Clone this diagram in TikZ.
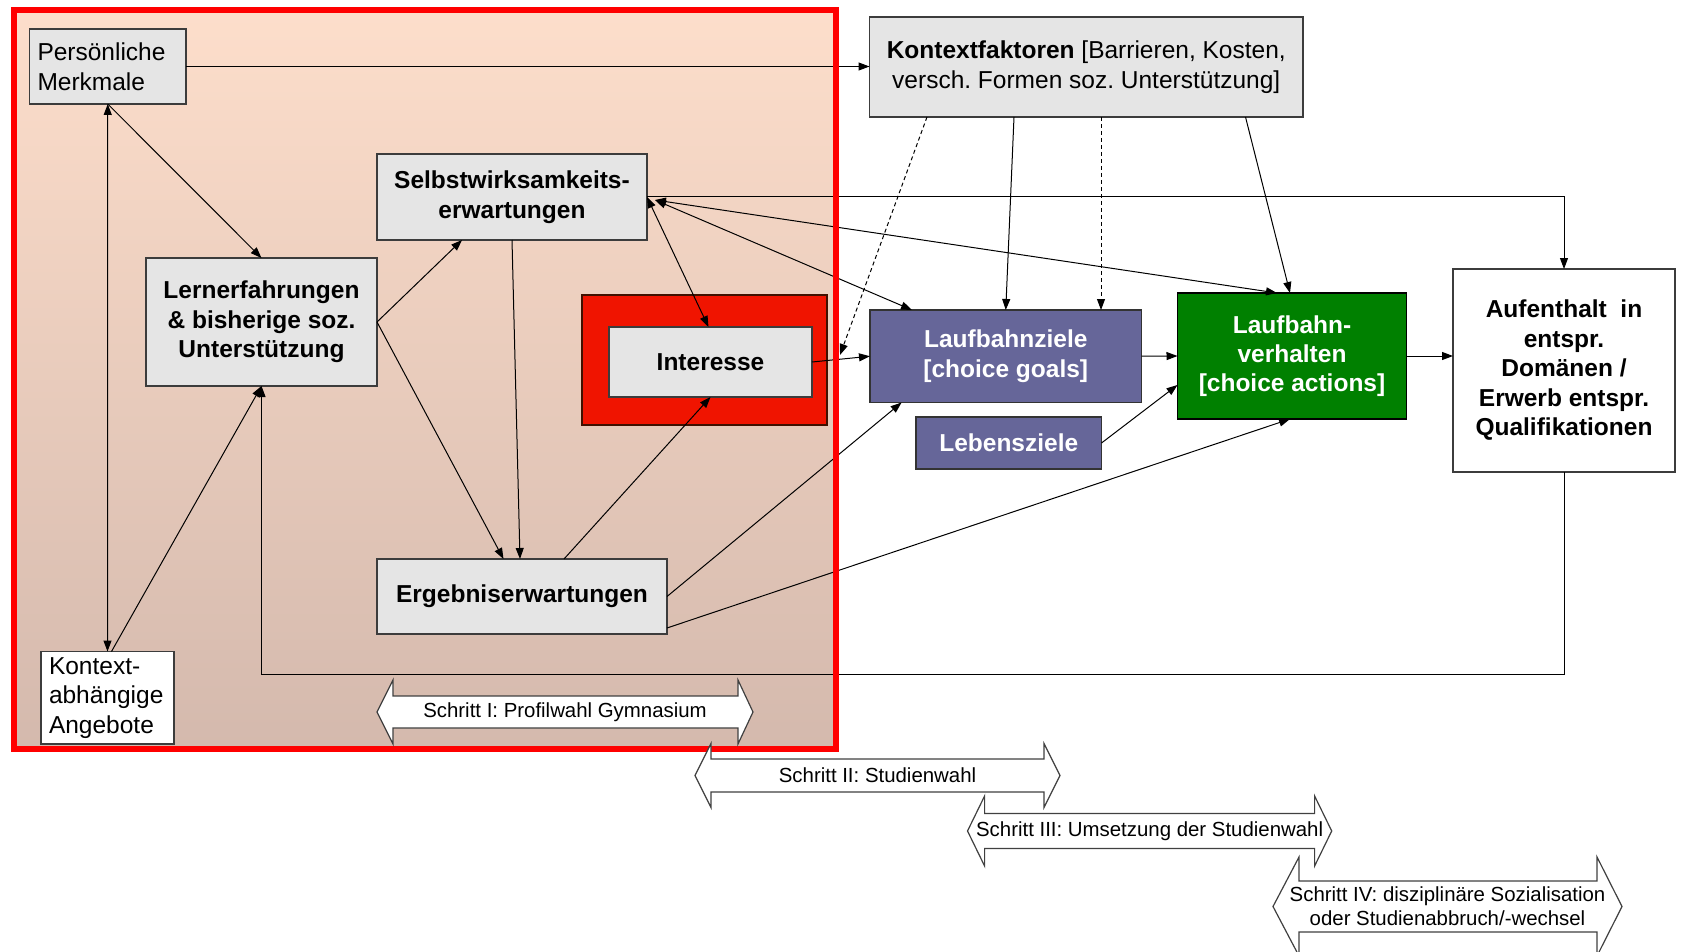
\documentclass[tikz,border=0pt]{standalone}
\usepackage{fontspec}
\setmainfont{Liberation Sans}
\usetikzlibrary{arrows.meta,calc}
\frenchspacing

\definecolor{boxgray}{RGB}{229,229,229}
\definecolor{edgegray}{RGB}{60,60,60}
\definecolor{goalblue}{RGB}{102,102,153}
\definecolor{actgreen}{RGB}{0,128,0}
\definecolor{intred}{RGB}{240,20,0}
\definecolor{intedge}{RGB}{64,16,0}
\definecolor{peachtop}{RGB}{253,222,203}
\definecolor{peachbot}{RGB}{212,185,173}
\definecolor{framered}{RGB}{255,0,0}

% double-headed step band: L, L-head back, R-head back, R, mid y, shaft half height, head half height
\newcommand\stepband[7]{%
  \draw[stepline] (#1,#5) -- (#2,#5-#7) -- (#2,#5-#6) -- (#3,#5-#6) -- (#3,#5-#7)
    -- (#4,#5) -- (#3,#5+#7) -- (#3,#5+#6) -- (#2,#5+#6) -- (#2,#5+#7) -- cycle;}

\begin{document}
\begin{tikzpicture}[x=1pt,y=-1pt,
  every node/.style={inner sep=0pt, outer sep=0pt},
  bigfont/.style={font=\fontsize{24.5}{29.5}\selectfont},
  boldfont/.style={font=\fontsize{24.5}{29.5}\selectfont\bfseries},
  stepfont/.style={font=\fontsize{20.4}{23.5}\selectfont},
  graybox/.style={draw=edgegray, line width=1.5pt, fill=boxgray, bigfont, align=center},
  boldbox/.style={graybox, boldfont},
  goalbox/.style={draw=black!80, line width=1.5pt, fill=goalblue, text=white, boldfont, align=center},
  actbox/.style={draw=black, line width=1.5pt, fill=actgreen, text=white, boldfont, align=center, font=\fontsize{24.5}{28.7}\selectfont\bfseries},
  stepline/.style={draw=black!75, line width=1.2pt, fill=white},
  link/.style={draw=black, line width=1pt, -{Triangle[length=11pt,width=8pt]}},
  twoway/.style={draw=black, line width=1pt, {Triangle[length=11pt,width=8pt]}-{Triangle[length=11pt,width=8pt]}},
  hint/.style={link, dash pattern=on 4pt off 3pt},
]
\useasboundingbox (0,0) rectangle (1681,952);

% shaded field of the first step
\shade[top color=peachtop, bottom color=peachbot] (14,10) rectangle (835.5,749);

% boxes
\node[graybox, align=left, text width=140.5pt, inner xsep=8pt, minimum height=75pt] (pm) at (107.75,66.5) {Persönliche\\Merkmale};
\node[boldbox, minimum width=270pt, minimum height=86pt] (se) at (512,197) {Selbstwirksamkeits-\\erwartungen};
\node[boldbox, minimum width=231pt, minimum height=128pt] (le) at (261.5,322) {Lernerfahrungen\\\& bisherige soz.\\Unterstützung};
\node[draw=intedge, line width=2.5pt, fill=intred, minimum width=245pt, minimum height=130pt] (io) at (704.5,360) {};
\node[boldbox, minimum width=203pt, minimum height=70pt] (ii) at (710.5,362) {Interesse};
\node[boldbox, minimum width=290pt, minimum height=75pt] (er) at (522,596.5) {Ergebniserwartungen};
\node[graybox, fill=white, align=left, text width=117pt, inner xsep=8pt, minimum height=92.5pt] (ka) at (107.5,697.75) {Kontext-\\abhängige\\Angebote};
\node[graybox, minimum width=433.5pt, minimum height=100pt] (kf) at (1086.25,67) {\textbf{Kontextfaktoren} [Barrieren, Kosten,\\versch. Formen soz. Unterstützung]};
\node[goalbox, minimum width=271.5pt, minimum height=92.5pt] (lz) at (1005.75,356.25) {Laufbahnziele\\{}[choice goals]};
\node[goalbox, minimum width=185.5pt, minimum height=52pt] (lb) at (1008.75,443) {Lebensziele};
\node[actbox, minimum width=229pt, minimum height=126pt] (lv) at (1292,356) {Laufbahn-\\verhalten\\{}[choice actions]};
\node[boldbox, fill=white, minimum width=222pt, minimum height=203pt] (au) at (1564,370.5) {Aufenthalt\ \ in\\entspr.\\Domänen /\\Erwerb entspr.\\Qualifikationen};

% connectors
\draw[link] (pm.east) -- (pm.east -| kf.west);
\draw[twoway] (pm.south) -- (ka.north);
\draw[link] (pm.south) -- (le.north);
\draw[link] ($(ka.north)+(4,0)$) -- (le.south);
\draw[link] (au.south) -- ++(0,202.5) -| (le.south);
\draw[link] (se.east) -| (au.north);
\draw[twoway] (se.east) -- ($(ii.north)+(-2,0)$);
\draw[twoway] ($(se.east)+(8,3)$) -- ($(lz.north west)+(42,0)$);
\draw[twoway] ($(se.east)+(8,3)$) -- ($(lv.north)+(-15,0)$);
\draw[link] (se.south) -- ($(er.north)+(-2,0)$);
\draw[link] (le.east) -- ($(se.south)+(-50,0)$);
\draw[link] (le.east) -- ($(er.north)+(-18.5,0)$);
\draw[link] ($(er.north west)+(187,0)$) -- (ii.south);
\draw[link] (er.east) -- ($(lz.south west)+(31.6,0)$);
\draw[link] ($(er.south east)+(0,-6)$) -- ($(lv.south)+(-2,0)$);
\draw[link] (ii.east) -- (lz.west);
\coordinate (dashend) at (840,355);
\draw[hint] ($(kf.south west)+(57.5,0)$) -- (dashend);
\draw[link] ($(kf.south west)+(144.5,0)$) -- (lz.north);
\draw[hint] ($(kf.south west)+(231.5,0)$) -- ($(lz.north east)+(-40.5,0)$);
\draw[link] ($(kf.south east)+(-57.5,0)$) -- ($(lv.north)+(-2,0)$);
\draw[link] (lz.east) -- (lv.west);
\draw[link] (lb.east) -- ($(lv.west)+(0,29)$);
\draw[link] (lv.east) -- (lv.east -| au.west);

% frame of the first step
\draw[framered, line width=6pt] (14,10) rectangle (835.5,749);

% step bands
\stepband{377}{393}{738}{753}{712}{16}{32}
\node[stepfont] (s1) at (565,712) {Schritt I: Profilwahl Gymnasium};
\stepband{695}{711}{1044}{1060}{775.5}{16.5}{32}
\node[stepfont] (s2) at (877.5,775.5) {Schritt II: Studienwahl};
\stepband{967.5}{984.6}{1314.6}{1331.7}{831}{17.5}{35}
\node[stepfont] (s3) at (1149.6,831) {Schritt III: Umsetzung der Studienwahl};
\stepband{1273}{1299}{1597}{1622}{906.5}{25.5}{49.5}
\node[stepfont, align=center] (s4) at (1447.5,906) {Schritt IV: disziplinäre Sozialisation\\oder Studienabbruch/-wechsel};
\end{tikzpicture}
\end{document}
